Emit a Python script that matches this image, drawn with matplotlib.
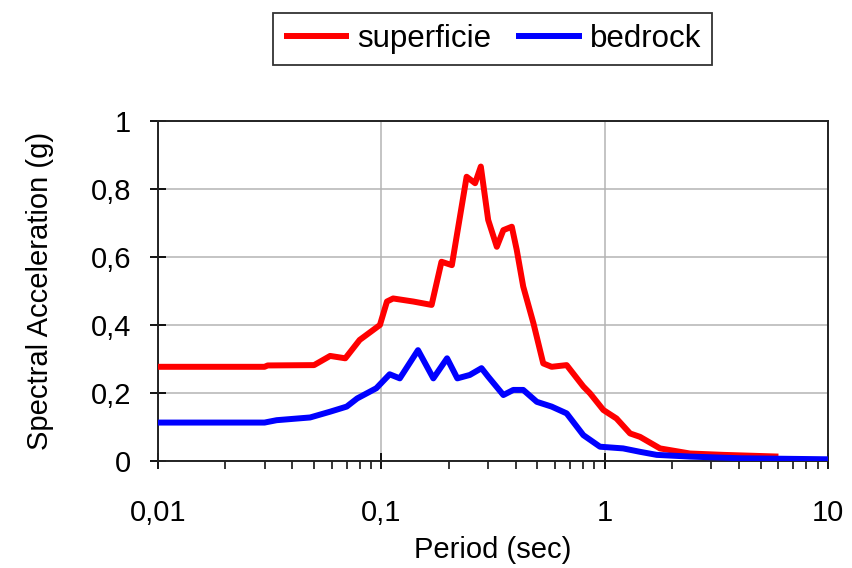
import matplotlib
matplotlib.use('Agg')
import matplotlib.pyplot as plt
from matplotlib.ticker import FuncFormatter, LogLocator, MultipleLocator

plt.rcParams['font.family'] = ['Liberation Sans', 'DejaVu Sans']

# spectral acceleration (g) vs period (s)
period_sup = [0.01, 0.030, 0.031, 0.050, 0.059, 0.069, 0.080, 0.0986, 0.106, 0.113,
              0.139, 0.168, 0.186, 0.207, 0.241, 0.263, 0.279, 0.301, 0.329, 0.352,
              0.384, 0.404, 0.432, 0.480, 0.531, 0.579, 0.676, 0.803, 0.86, 0.987,
              1.13, 1.30, 1.44, 1.77, 2.41, 3.40, 6.0]
sa_sup = [0.277, 0.277, 0.281, 0.282, 0.309, 0.302, 0.356, 0.400, 0.469, 0.478,
          0.469, 0.459, 0.586, 0.576, 0.836, 0.817, 0.866, 0.709, 0.630, 0.679,
          0.689, 0.621, 0.513, 0.405, 0.287, 0.277, 0.282, 0.219, 0.199, 0.150,
          0.125, 0.081, 0.071, 0.037, 0.022, 0.018, 0.013]

period_bed = [0.01, 0.030, 0.034, 0.048, 0.059, 0.070, 0.078, 0.095, 0.109, 0.121,
              0.146, 0.171, 0.197, 0.219, 0.249, 0.281, 0.301, 0.352, 0.390, 0.432,
              0.497, 0.579, 0.676, 0.803, 0.953, 1.21, 1.44, 1.71, 2.41, 4.04, 10.0]
sa_bed = [0.113, 0.113, 0.120, 0.128, 0.145, 0.160, 0.184, 0.214, 0.255, 0.243,
          0.326, 0.243, 0.302, 0.243, 0.253, 0.273, 0.248, 0.194, 0.209, 0.209,
          0.174, 0.160, 0.140, 0.076, 0.042, 0.037, 0.027, 0.018, 0.013, 0.008, 0.005]

fig = plt.figure(figsize=(8.52, 5.68), dpi=100, facecolor='white')
ax = fig.add_axes([0.1854, 0.1884, 0.7864, 0.5986])

ax.plot(period_sup, sa_sup, color='#ff0000', lw=4.3, solid_joinstyle='round',
        solid_capstyle='butt', label='superficie', zorder=3)
ax.plot(period_bed, sa_bed, color='#0000ff', lw=4.3, solid_joinstyle='round',
        solid_capstyle='butt', label='bedrock', zorder=3)

ax.set_xscale('log')
ax.set_xlim(0.01, 10)
ax.set_ylim(0, 1)
ax.yaxis.set_major_locator(MultipleLocator(0.2))
ax.xaxis.set_major_locator(LogLocator(base=10))
ax.xaxis.set_minor_locator(LogLocator(base=10, subs=range(2, 10)))


def comma(v, pos):
    s = f'{v:g}'
    return s.replace('.', ',')


ax.xaxis.set_major_formatter(FuncFormatter(comma))
ax.xaxis.set_minor_formatter(FuncFormatter(lambda v, p: ''))
ax.yaxis.set_major_formatter(FuncFormatter(comma))

ax.grid(True, which='major', color='#b4b4b4', lw=1.1, zorder=0)
ax.tick_params(which='major', direction='inout', length=11, width=1.3,
               labelsize=21, colors='black')
ax.tick_params(axis='x', which='major', pad=22)
ax.tick_params(axis='y', which='major', pad=14)
ax.tick_params(axis='x', which='minor', direction='out', length=6, width=1.1)
for sp in ax.spines.values():
    sp.set_color('#222222')
    sp.set_linewidth(1.4)

ax.set_xlabel('Period (sec)', fontsize=21, labelpad=6)
ax.set_ylabel('Spectral Acceleration (g)', fontsize=21, labelpad=26)

leg = fig.legend(loc='center', bbox_to_anchor=(0.578, 0.932), ncol=2,
                 fontsize=22.5, frameon=True, fancybox=False, edgecolor='black',
                 handlelength=2.1, handletextpad=0.25, columnspacing=0.8,
                 borderpad=0.35)
leg.get_frame().set_linewidth(1.3)

fig.savefig('out.png', dpi=100, facecolor='white')
